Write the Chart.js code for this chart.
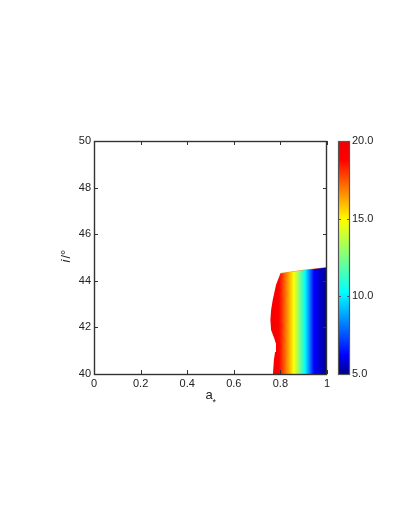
<!DOCTYPE html>
<html>
<head>
<meta charset="utf-8">
<script src="https://cdn.jsdelivr.net/npm/chart.js@4.4.1/dist/chart.umd.min.js"></script>
<style>
  html, body { margin: 0; padding: 0; background: #fff; }
  #wrap { position: relative; width: 409px; height: 529px; overflow: hidden; }
  #mainChart { position: absolute; left: 0; top: 0; }
  #barChart { position: absolute; left: 330px; top: 0; }
</style>
</head>
<body>
<div id="wrap">
  <canvas id="mainChart" width="409" height="529"></canvas>
  <canvas id="barChart" width="79" height="529"></canvas>
</div>
<script>
const FONT = "'Liberation Sans', Arial, Helvetica, sans-serif";

// axes
const xTicks = [0, 0.2, 0.4, 0.6, 0.8, 1];
const yTicks = [40, 42, 44, 46, 48, 50];
const colorTicks = [5, 10, 15, 20];

// outline of the coloured region (a*, i)
const regionX = [0.800, 0.900, 1.000, 1.000, 0.768, 0.772, 0.777, 0.781, 0.773, 0.760, 0.757, 0.760, 0.767, 0.781];
const regionY = [44.31, 44.45, 44.57, 40.00, 40.00, 40.60, 40.94, 41.30, 41.55, 41.89, 42.32, 42.75, 43.18, 43.82];

// colour value across the region (left edge -> x = 1)
const profileX = [0.760, 0.794, 0.857, 0.906, 0.944, 1.000];
const profileV = [19.5, 18.8, 14.9, 10.2, 6.2, 5.0];

const colorMin = 5;
const colorMax = 20;

// colour map as seen on the bar
const cmapPos = [0, 0.08, 0.35, 0.66, 0.92, 1];
const cmapRgb = [[0, 0, 140], [0, 0, 255], [0, 255, 255], [255, 255, 0], [255, 0, 0], [240, 0, 0]];

document.addEventListener("DOMContentLoaded", () => {
  drawMainChart();
  drawColorBar();
});

function colorFor(v) {
  const f = Math.min(1, Math.max(0, (v - colorMin) / (colorMax - colorMin)));
  let i = 0;
  while (i < cmapPos.length - 2 && f > cmapPos[i + 1]) i++;
  const t = (f - cmapPos[i]) / (cmapPos[i + 1] - cmapPos[i]);
  const a = cmapRgb[i];
  const b = cmapRgb[i + 1];
  const mix = (k) => Math.round(a[k] + (b[k] - a[k]) * t);
  return `rgb(${mix(0)}, ${mix(1)}, ${mix(2)})`;
}

function regionFill(context) {
  const chart = context.chart;
  if (!chart.chartArea) return colorFor(12);
  const xs = chart.scales.x;
  const x0 = xs.getPixelForValue(profileX[0]);
  const x1 = xs.getPixelForValue(profileX[profileX.length - 1]);
  const grad = chart.ctx.createLinearGradient(x0, 0, x1, 0);
  profileX.forEach((x, i) => {
    grad.addColorStop((xs.getPixelForValue(x) - x0) / (x1 - x0), colorFor(profileV[i]));
  });
  return grad;
}

const frameTicks = {
  id: "frameTicks",
  afterDatasetsDraw(chart, args, opts) {
    const { ctx, chartArea: a, scales } = chart;
    const len = opts.len || 4;
    ctx.save();
    ctx.strokeStyle = opts.color || "#333";
    ctx.lineWidth = 1;
    ctx.beginPath();
    if (opts.xValues) {
      opts.xValues.forEach((v) => {
        const px = Math.round(scales.x.getPixelForValue(v)) + 0.5;
        ctx.moveTo(px, a.bottom); ctx.lineTo(px, a.bottom - len);
        ctx.moveTo(px, a.top); ctx.lineTo(px, a.top + len);
      });
    }
    opts.yValues.forEach((v) => {
      const py = Math.round(scales.y.getPixelForValue(v)) + 0.5;
      ctx.moveTo(a.left, py); ctx.lineTo(a.left + len, py);
      ctx.moveTo(a.right, py); ctx.lineTo(a.right - len, py);
    });
    ctx.stroke();
    ctx.lineWidth = opts.width || 1.4;
    ctx.strokeRect(Math.round(a.left) + 0.5, Math.round(a.top) + 0.5,
      Math.round(a.right - a.left) - 1, Math.round(a.bottom - a.top));
    ctx.restore();
  }
};

const axisTitles = {
  id: "axisTitles",
  afterDraw(chart) {
    const { ctx, chartArea: a } = chart;
    ctx.save();
    ctx.fillStyle = "#222";
    ctx.textBaseline = "alphabetic";
    ctx.textAlign = "left";
    // x title: a with a low asterisk
    const cx = (a.left + a.right) / 2;
    ctx.font = `13px ${FONT}`;
    ctx.fillText("a", cx - 5, a.bottom + 25);
    ctx.font = `9px ${FONT}`;
    ctx.fillText("*", cx + 2, a.bottom + 31);
    // y title: italic i / degree
    ctx.translate(70, (a.top + a.bottom) / 2 + 5);
    ctx.rotate(-Math.PI / 2);
    ctx.font = `italic 13px ${FONT}`;
    ctx.fillText("i", 0, 0);
    const w = ctx.measureText("i").width;
    ctx.font = `13px ${FONT}`;
    ctx.fillText("/°", w + 1, 0);
    ctx.restore();
  }
};

function drawMainChart() {
  const canvas = document.getElementById("mainChart");
  const points = regionX.map((x, i) => ({ x, y: regionY[i] }));
  const topEdge = points.slice(0, 3);

  new Chart(canvas, {
    type: "scatter",
    data: {
      datasets: [
        {
          data: points,
          showLine: true,
          fill: "shape",
          tension: 0,
          pointRadius: 0,
          borderWidth: 0,
          borderColor: "rgba(0,0,0,0)",
          backgroundColor: regionFill
        },
        {
          data: topEdge,
          showLine: true,
          fill: false,
          pointRadius: 0,
          borderWidth: 1.2,
          borderColor: "rgba(255, 110, 0, 0.85)"
        }
      ]
    },
    options: {
      responsive: false,
      animation: false,
      layout: { padding: { left: 0, right: 82, top: 141, bottom: 115 } },
      plugins: {
        legend: { display: false },
        tooltip: { enabled: false },
        frameTicks: { xValues: xTicks, yValues: yTicks, len: 4, color: "#333", width: 1.4 }
      },
      scales: {
        x: {
          type: "linear",
          min: 0,
          max: 1,
          afterFit: (scale) => { scale.height = 40; },
          afterBuildTicks: (scale) => { scale.ticks = xTicks.map((v) => ({ value: v })); },
          grid: { display: false, drawTicks: false },
          border: { display: false },
          ticks: {
            padding: 3,
            color: "#222",
            font: { family: FONT, size: 11 },
            maxRotation: 0,
            callback: (v) => String(v)
          }
        },
        y: {
          type: "linear",
          min: 40,
          max: 50,
          afterFit: (scale) => { scale.width = 94; },
          afterBuildTicks: (scale) => { scale.ticks = yTicks.map((v) => ({ value: v })); },
          grid: { display: false, drawTicks: false },
          border: { display: false },
          ticks: {
            padding: 3,
            color: "#222",
            font: { family: FONT, size: 11 },
            callback: (v) => String(v)
          }
        }
      }
    },
    plugins: [frameTicks, axisTitles]
  });
}

function colorBarFill(context) {
  const chart = context.chart;
  if (!chart.chartArea) return colorFor(12);
  const ys = chart.scales.y;
  const y0 = ys.getPixelForValue(colorMin);
  const y1 = ys.getPixelForValue(colorMax);
  const grad = chart.ctx.createLinearGradient(0, y0, 0, y1);
  cmapPos.forEach((f) => {
    grad.addColorStop(f, colorFor(colorMin + f * (colorMax - colorMin)));
  });
  return grad;
}

function drawColorBar() {
  const canvas = document.getElementById("barChart");

  new Chart(canvas, {
    type: "bar",
    data: {
      labels: ["value"],
      datasets: [
        {
          data: [[colorMin, colorMax]],
          backgroundColor: colorBarFill,
          borderWidth: 0,
          barPercentage: 1,
          categoryPercentage: 1
        }
      ]
    },
    options: {
      responsive: false,
      animation: false,
      layout: { padding: { left: 8, right: 0, top: 141, bottom: 155 } },
      plugins: {
        legend: { display: false },
        tooltip: { enabled: false },
        frameTicks: { yValues: colorTicks.slice(1, -1), len: 3, color: "#555", width: 1.2 }
      },
      scales: {
        x: { display: false },
        y: {
          position: "right",
          min: colorMin,
          max: colorMax,
          afterFit: (scale) => { scale.width = 59; },
          afterBuildTicks: (scale) => { scale.ticks = colorTicks.map((v) => ({ value: v })); },
          grid: { display: false, drawTicks: false },
          border: { display: false },
          ticks: {
            padding: 2,
            color: "#222",
            font: { family: FONT, size: 11 },
            callback: (v) => Number(v).toFixed(1)
          }
        }
      }
    },
    plugins: [frameTicks]
  });
}
</script>
</body>
</html>
